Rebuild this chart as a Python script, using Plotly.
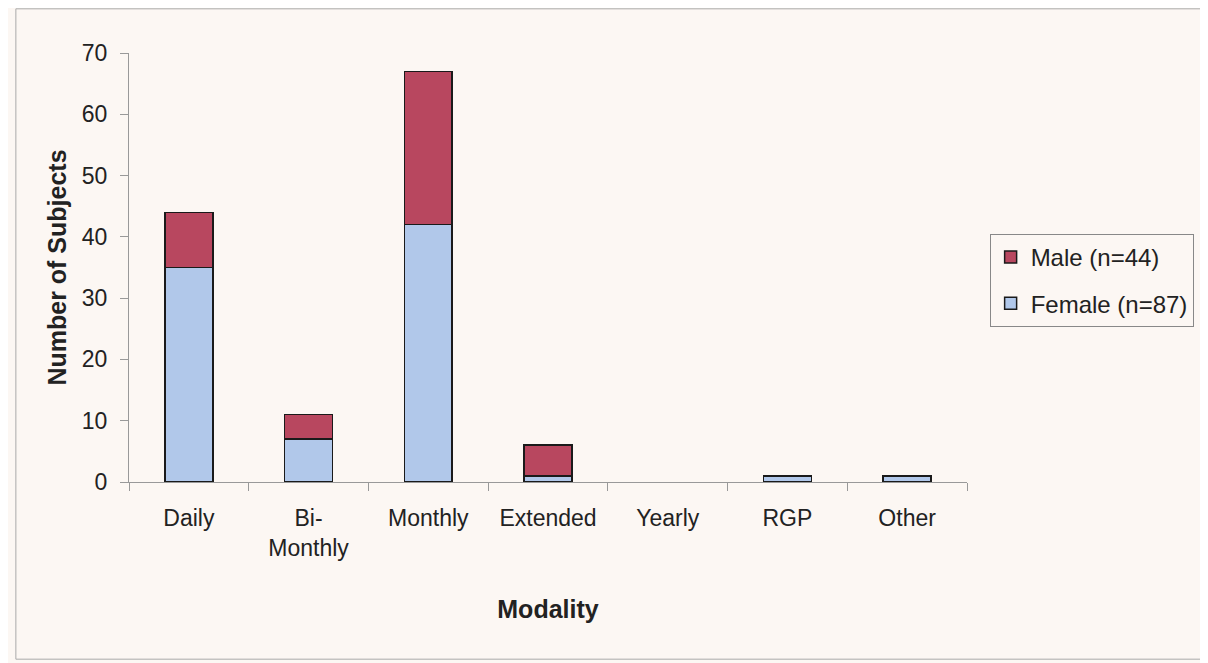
import plotly.graph_objects as go

# データ
categories = ['Daily', 'Bi-<br>Monthly', 'Monthly', 'Extended', 'Yearly', 'RGP', 'Other']
female = [35, 7, 42, 1, 0, 1, 1]
male = [9, 4, 25, 5, 0, 0, 0]

# 値が0のバーは枠線を描かない
female_lw = [1.5 if v > 0 else 0 for v in female]
male_lw = [1.5 if v > 0 else 0 for v in male]

fig = go.Figure()

fig.add_trace(go.Bar(
    x=categories, y=female, name='Female (n=87)', legendgroup='f', legendrank=2,
    marker=dict(color='#b1c8ea', line=dict(color='#1a1a1a', width=female_lw)),
))
fig.add_trace(go.Bar(
    x=categories, y=male, name='Male (n=44)', legendgroup='m', legendrank=1,
    marker=dict(color='#b8475f', line=dict(color='#1a1a1a', width=male_lw)),
))

fig.update_layout(
    barmode='stack',
    bargap=0.6,
    width=1208, height=663,
    margin=dict(l=121, r=249, t=45, b=189),
    paper_bgcolor='#fcf7f3',
    plot_bgcolor='#fcf7f3',
    font=dict(family='Liberation Sans, Arial', size=23, color='#222'),
    showlegend=True,
    legend=dict(
        x=1.027, y=0.47, xanchor='left', yanchor='middle',
        traceorder='grouped', tracegroupgap=12,
        bordercolor='#888', borderwidth=1,
        font=dict(size=24),
    ),
    xaxis=dict(
        showline=True, linecolor='#999', ticks='outside', tickcolor='#999',
        tickson='boundaries', ticklen=8, showgrid=False, automargin=False,
        ticklabelstandoff=15,
        title=dict(text='<b>Modality</b>', font=dict(size=25), standoff=40),
    ),
    yaxis=dict(
        range=[0, 70], dtick=10, showline=True, linecolor='#999',
        ticks='outside', tickcolor='#999', ticklen=8, showgrid=False, zeroline=False,
        automargin=False, ticklabelstandoff=8,
        title=dict(text='<b>Number of Subjects</b>', font=dict(size=25), standoff=8),
    ),
)

# 外枠
fig.add_shape(type='rect', xref='paper', yref='paper',
              x0=-0.135, x1=1.279, y0=-0.413, y1=1.103,
              line=dict(color='#aaa', width=1))

fig.write_html('out.html')
